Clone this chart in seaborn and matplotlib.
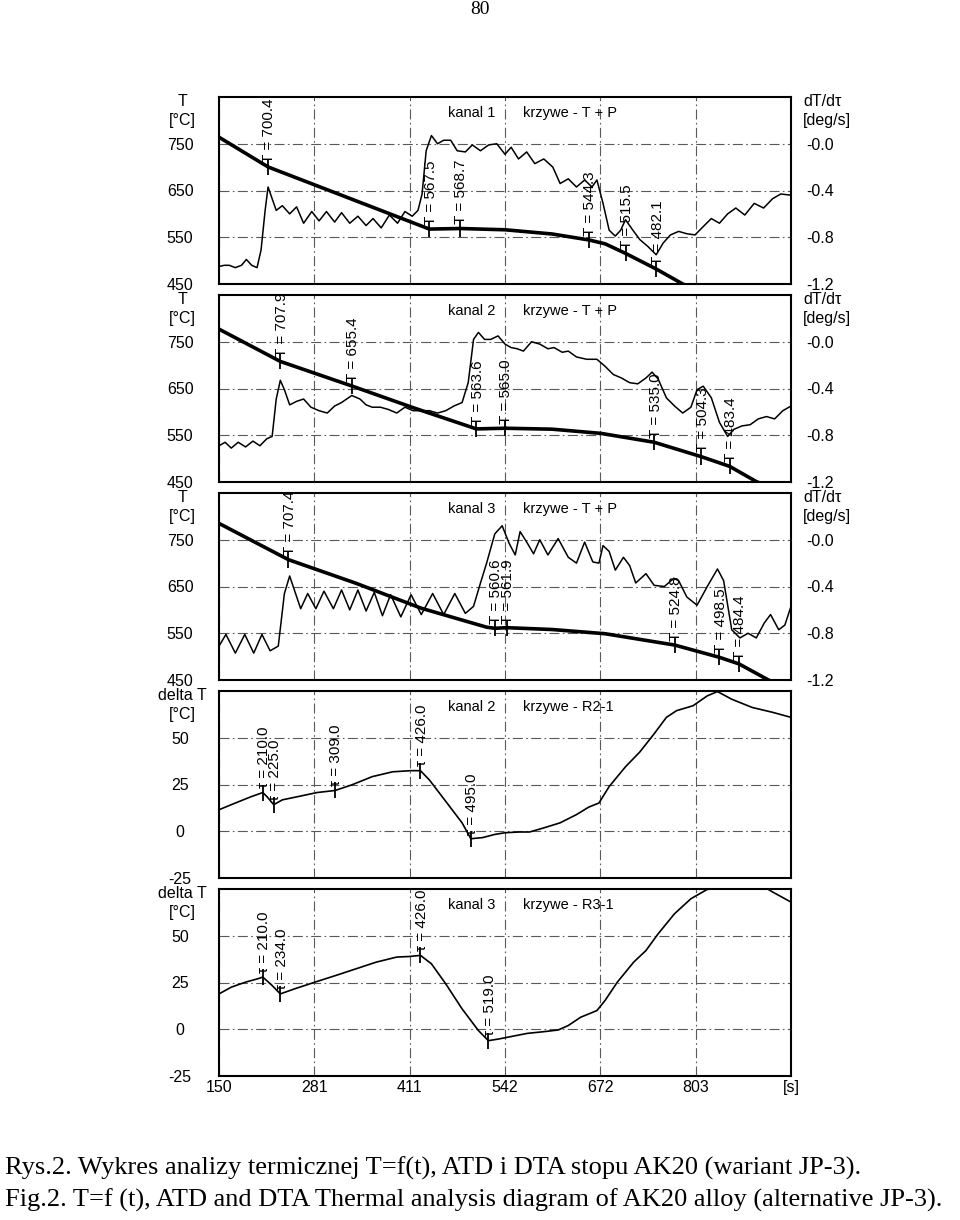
import numpy as np
import pandas as pd
import seaborn as sns
import matplotlib.pyplot as plt

W, H = 960, 1220

# time axis [s]
x_ticks = [150.0, 280.6, 411.2, 541.8, 672.4, 803.0, 933.6]
x_tick_labels = ["150", "281", "411", "542", "672", "803", "[s]"]

t_ticks = [450, 550, 650, 750]
t_tick_labels = ["450", "550", "650", "750"]
rate_ticks = [0.0, -0.4, -0.8, -1.2]
rate_tick_labels = ["-0.0", "-0.4", "-0.8", "-1.2"]
delta_ticks = [-25, 0, 25, 50]
delta_tick_labels = ["-25", "0", "25", "50"]

# kanal 1 : T (thick) and dT/dtau (thin)
k1_cool_t = [150, 217.2, 438.2, 480.2, 541.8, 606.2, 656.5, 678.9, 706.9, 748.9, 785.3, 800]
k1_cool_T = [764, 700.4, 567.5, 568.7, 566, 557, 544.3, 536, 515.5, 482.1, 450, 440]
k1_rate_t = [150.0, 157.3, 164.0, 172.4, 180.8, 187.5, 194.8, 202.1, 207.6, 213.2, 217.2, 222.8,
             228.4, 236.8, 246.8, 256.3, 265.9, 277.1, 287.1, 297.2, 308.4, 317.9, 329.1, 340.3,
             351.5, 361.0, 372.2, 383.4, 394.6, 404.7, 414.7, 422.6, 428.2, 433.8, 441.0, 449.4,
             457.8, 467.4, 476.3, 487.5, 497.0, 508.2, 519.4, 530.6, 541.8, 550.2, 560.3, 571.5,
             582.6, 595.0, 607.3, 617.3, 628.5, 639.7, 650.9, 661.0, 667.7, 676.1, 684.5, 692.9,
             700.2, 706.9, 717.0, 726.5, 737.7, 748.9, 758.4, 768.5, 779.7, 790.9, 802.1, 813.2,
             824.4, 835.6, 846.8, 858.0, 870.3, 883.2, 896.1, 908.4, 919.6, 933.6]
k1_rate = [-1.05, -1.04, -1.04, -1.06, -1.04, -0.99, -1.04, -1.06, -0.91, -0.57, -0.37, -0.47,
           -0.57, -0.53, -0.60, -0.54, -0.68, -0.58, -0.66, -0.58, -0.67, -0.59, -0.68, -0.62,
           -0.70, -0.64, -0.72, -0.61, -0.68, -0.58, -0.62, -0.57, -0.43, -0.06, 0.07, 0.0,
           0.03, 0.03, -0.06, -0.07, -0.01, -0.06, -0.01, 0.0, -0.09, -0.03, -0.13, -0.07,
           -0.17, -0.13, -0.20, -0.34, -0.30, -0.37, -0.31, -0.37, -0.31, -0.51, -0.74, -0.79,
           -0.74, -0.65, -0.74, -0.82, -0.88, -0.95, -0.85, -0.78, -0.75, -0.77, -0.78, -0.71,
           -0.64, -0.68, -0.60, -0.55, -0.61, -0.51, -0.55, -0.47, -0.43, -0.44]
k1_marks_t = [217.2, 438.2, 480.2, 656.5, 706.9, 748.9]
k1_marks_T = [700.4, 567.5, 568.7, 544.3, 515.5, 482.1]

# kanal 2
k2_cool_t = [150, 234.0, 331.9, 415.9, 502.6, 541.8, 606.2, 673.3, 746.1, 810.5, 849.6, 886.0, 900]
k2_cool_T = [777, 707.9, 655.4, 609, 563.6, 565.0, 563, 554, 535.0, 504.3, 483.4, 451, 442]
k2_rate_t = [150.0, 158.4, 166.8, 176.3, 186.4, 196.5, 206.0, 215.5, 222.8, 228.4, 234.0, 239.6,
             246.8, 256.3, 265.9, 275.9, 287.1, 298.3, 308.4, 317.9, 331.9, 343.1, 351.5, 359.9,
             371.1, 382.3, 393.5, 404.7, 415.9, 427.1, 438.3, 449.4, 460.6, 471.8, 483.0, 491.4,
             498.7, 505.4, 513.8, 522.2, 532.3, 541.8, 550.2, 558.6, 567.0, 578.2, 589.4, 600.6,
             609.0, 620.2, 628.5, 639.7, 653.7, 667.7, 678.9, 690.1, 701.3, 712.5, 723.7, 734.9,
             743.3, 751.7, 762.9, 774.1, 785.3, 796.5, 804.9, 813.3, 824.5, 835.6, 846.8, 855.2,
             866.4, 877.6, 888.8, 900.0, 911.2, 922.4, 933.6]
k2_rate = [-0.89, -0.86, -0.91, -0.86, -0.90, -0.85, -0.89, -0.83, -0.81, -0.49, -0.33, -0.41,
           -0.54, -0.51, -0.49, -0.56, -0.59, -0.61, -0.55, -0.52, -0.46, -0.49, -0.54, -0.56,
           -0.56, -0.58, -0.61, -0.56, -0.59, -0.59, -0.59, -0.61, -0.59, -0.55, -0.52, -0.35,
           0.02, 0.08, 0.02, 0.02, 0.05, -0.02, -0.05, -0.06, -0.08, 0.0, -0.02, -0.06,
           -0.05, -0.09, -0.08, -0.13, -0.15, -0.15, -0.21, -0.28, -0.31, -0.35, -0.36, -0.31,
           -0.26, -0.32, -0.48, -0.55, -0.61, -0.56, -0.41, -0.38, -0.48, -0.69, -0.81, -0.75,
           -0.72, -0.71, -0.66, -0.64, -0.66, -0.59, -0.55]
k2_marks_t = [234.0, 331.9, 502.6, 541.8, 746.1, 810.5, 849.6]
k2_marks_T = [707.9, 655.4, 563.6, 565.0, 535.0, 504.3, 483.4]

# kanal 3
k3_cool_t = [150, 245.1, 337.5, 427.1, 516.6, 527.8, 544.6, 606.2, 678.9, 774.1, 835.6, 862.4, 902.7, 915]
k3_cool_T = [785, 707.4, 657, 603.5, 563, 560.6, 561.9, 558, 549, 524.8, 498.5, 484.4, 450, 441]
k3_rate_t = [150.0, 159.5, 172.4, 185.3, 197.6, 208.8, 220.0, 231.2, 239.6, 246.8, 261.9, 271.5,
             282.7, 293.8, 306.7, 317.9, 329.1, 340.3, 351.5, 362.7, 373.9, 385.1, 399.1, 413.1,
             427.1, 442.7, 457.8, 473.0, 487.5, 498.7, 508.2, 516.6, 527.8, 537.9, 547.4, 555.8,
             562.5, 572.5, 580.9, 589.4, 600.6, 614.6, 628.5, 639.7, 650.9, 662.1, 670.5, 676.1,
             684.5, 692.9, 704.1, 712.5, 720.9, 734.9, 746.1, 760.1, 773.0, 779.7, 790.9, 804.9,
             818.9, 832.9, 841.3, 852.4, 863.6, 874.8, 886.0, 897.2, 905.6, 916.8, 925.2, 933.6]
k3_rate = [-0.91, -0.81, -0.97, -0.81, -0.97, -0.81, -0.95, -0.91, -0.46, -0.31, -0.59, -0.46,
           -0.59, -0.44, -0.59, -0.43, -0.60, -0.43, -0.61, -0.45, -0.65, -0.47, -0.66, -0.47,
           -0.64, -0.46, -0.64, -0.46, -0.63, -0.57, -0.37, -0.20, 0.05, 0.12, -0.03, -0.13,
           0.07, -0.03, -0.12, 0.0, -0.13, 0.01, -0.15, -0.20, -0.02, -0.19, -0.20, -0.05,
           -0.10, -0.26, -0.15, -0.22, -0.37, -0.29, -0.39, -0.40, -0.33, -0.35, -0.49, -0.56,
           -0.40, -0.25, -0.35, -0.77, -0.84, -0.80, -0.84, -0.71, -0.64, -0.77, -0.73, -0.57]
k3_marks_t = [245.1, 527.8, 544.6, 774.1, 835.6, 862.4]
k3_marks_T = [707.4, 560.6, 561.9, 524.8, 498.5, 484.4]

# delta T, kanal 2 (R2-1)
r21_t = [150.0, 172.4, 194.8, 210.0, 215.5, 225.0, 236.8, 259.1, 284.3, 309.0, 331.9, 359.9,
         387.9, 413.1, 426.0, 438.3, 460.6, 483.0, 495.0, 511.0, 527.8, 541.8, 561.4, 575.4,
         595.0, 617.3, 639.7, 656.5, 670.5, 684.5, 706.9, 726.5, 746.1, 762.9, 776.9, 799.3,
         818.9, 832.9, 852.4, 880.4, 908.4, 933.6]
r21_dT = [11.5, 15.1, 18.6, 20.7, 18.6, 14.2, 16.8, 18.6, 20.7, 21.8, 24.8, 29.2,
          31.8, 32.4, 32.4, 27.4, 16.0, 4.5, -4.0, -3.4, -1.7, -0.8, -0.4, -0.4,
          1.8, 4.5, 8.9, 12.9, 15.1, 23.9, 34.5, 42.4, 52.1, 60.9, 64.5, 67.1,
          72.4, 74.7, 70.6, 66.2, 63.6, 60.9]
r21_marks_t = [210.0, 225.0, 309.0, 426.0, 495.0]
r21_marks_dT = [20.7, 14.2, 21.8, 32.4, -4.0]

# delta T, kanal 3 (R3-1)
r31_t = [150.0, 166.8, 186.4, 203.2, 210.0, 222.8, 234.0, 253.5, 281.5, 309.5, 337.5, 365.5,
         393.5, 410.3, 426.0, 441.0, 460.6, 483.0, 505.4, 519.0, 533.4, 550.2, 572.5, 595.0,
         614.6, 628.5, 645.3, 667.7, 678.9, 695.7, 718.1, 734.9, 751.7, 774.1, 796.5, 818.9,
         852.4, 897.2, 908.4, 933.6]
r31_dT = [18.9, 22.5, 25.2, 27.0, 27.9, 23.4, 18.9, 21.6, 25.2, 28.7, 32.3, 35.9,
          38.6, 38.9, 39.5, 35.0, 24.3, 10.9, -0.7, -6.1, -5.2, -3.9, -2.2, -1.3,
          -0.4, 2.0, 6.4, 10.0, 15.4, 25.2, 35.9, 42.1, 51.1, 61.8, 69.8, 74.8,
          76.0, 76.0, 73.4, 68.0]
r31_marks_t = [210.0, 234.0, 426.0, 519.0]
r31_marks_dT = [27.9, 18.9, 39.5, -6.1]

sns.set_theme(style="white")
plt.rcParams["font.family"] = ["Liberation Sans", "DejaVu Sans"]
plt.rcParams["text.color"] = "black"

fig = plt.figure(figsize=(W / 100, H / 100), dpi=100)

tops = [97, 295, 493, 691, 889]
panel_h = 187
left_px, right_px = 219, 791
LBL = 11.5


def make_ax(top):
    return fig.add_axes([left_px / W, 1 - (top + panel_h) / H,
                         (right_px - left_px) / W, panel_h / H])


def style_ax(ax, yticks, ylabels, ylim, bottom=False):
    ax.set_xlim(x_ticks[0], x_ticks[-1])
    ax.set_ylim(*ylim)
    ax.set_xticks(x_ticks)
    ax.set_yticks(yticks)
    ax.set_yticklabels(ylabels)
    if bottom:
        ax.set_xticklabels(x_tick_labels)
    else:
        ax.set_xticklabels([])
    ax.tick_params(axis="both", length=0, labelsize=LBL, colors="black")
    ax.tick_params(axis="y", pad=28)
    ax.tick_params(axis="x", pad=3)
    for lab in ax.get_yticklabels():
        lab.set_horizontalalignment("center")
    ax.grid(True, ls=(0, (9, 3, 1.5, 3)), color="0.35", lw=0.8)
    for s in ax.spines.values():
        s.set_color("black")
        s.set_linewidth(1.5)
    ax.set_xlabel("")
    ax.set_ylabel("")


def add_marks(ax, mt, mv, texts):
    ax.plot(mt, mv, ls="none", marker="|", ms=12, mew=1.3, color="black", zorder=6)
    for t, v, s in zip(mt, mv, texts):
        ax.annotate(s, (t, v), xytext=(1, 3), textcoords="offset points", rotation=90,
                    ha="center", va="bottom", fontsize=11, color="black",
                    annotation_clip=False, zorder=7)


def headers(top, left_name, right=True):
    fig.text(182 / W, 1 - (top + 4) / H, left_name, ha="center", va="center", fontsize=LBL)
    fig.text(182 / W, 1 - (top + 23) / H, "[°C]", ha="center", va="center", fontsize=LBL)
    if right:
        fig.text(803 / W, 1 - (top + 4) / H, "dT/dτ", ha="left", va="center", fontsize=LBL)
        fig.text(803 / W, 1 - (top + 23) / H, "[deg/s]", ha="left", va="center", fontsize=LBL)


def panel_title(ax, kanal, curves):
    ax.text(0.40, 0.915, kanal, transform=ax.transAxes, fontsize=10.5, va="center")
    ax.text(0.532, 0.915, curves, transform=ax.transAxes, fontsize=10.5, va="center")


tp_panels = [
    (k1_cool_t, k1_cool_T, k1_rate_t, k1_rate, k1_marks_t, k1_marks_T, "kanal 1"),
    (k2_cool_t, k2_cool_T, k2_rate_t, k2_rate, k2_marks_t, k2_marks_T, "kanal 2"),
    (k3_cool_t, k3_cool_T, k3_rate_t, k3_rate, k3_marks_t, k3_marks_T, "kanal 3"),
]

for i, (ct, cT, rt, rv, mt, mT, name) in enumerate(tp_panels):
    ax = make_ax(tops[i])
    sns.lineplot(x=ct, y=cT, ax=ax, color="black", linewidth=2.6, sort=False, estimator=None)
    style_ax(ax, t_ticks, t_tick_labels, (450, 850))
    ax2 = ax.twinx()
    sns.lineplot(x=rt, y=rv, ax=ax2, color="black", linewidth=1.1, sort=False, estimator=None)
    ax2.set_xlim(x_ticks[0], x_ticks[-1])
    ax2.set_ylim(-1.2, 0.4)
    ax2.set_yticks(rate_ticks)
    ax2.set_yticklabels(rate_tick_labels)
    ax2.tick_params(axis="y", length=0, pad=11, labelsize=LBL, colors="black")
    ax2.grid(False)
    ax2.set_ylabel("")
    for s in ax2.spines.values():
        s.set_visible(False)
    add_marks(ax, mt, mT, [f"T = {v:.1f}" for v in mT])
    panel_title(ax, name, "krzywe - T + P")
    headers(tops[i], "T")

dta_panels = [
    (r21_t, r21_dT, r21_marks_t, r21_marks_dT, "kanal 2", "krzywe - R2-1"),
    (r31_t, r31_dT, r31_marks_t, r31_marks_dT, "kanal 3", "krzywe - R3-1"),
]

for j, (dt_, dv, mt, mv, name, curves) in enumerate(dta_panels):
    ax = make_ax(tops[3 + j])
    sns.lineplot(x=dt_, y=dv, ax=ax, color="black", linewidth=1.2, sort=False, estimator=None)
    style_ax(ax, delta_ticks, delta_tick_labels, (-25, 75), bottom=(j == 1))
    add_marks(ax, mt, mv, [f"τ = {t:.1f}" for t in mt])
    panel_title(ax, name, curves)
    headers(tops[3 + j], "delta T", right=False)

fig.text(0.5, 1 - 10 / H, "80", ha="center", va="center", fontsize=14, family="Liberation Serif")
fig.text(5 / W, 1 - 1168 / H,
         "Rys.2. Wykres analizy termicznej T=f(t), ATD i DTA stopu AK20 (wariant JP-3).",
         ha="left", va="center", fontsize=19, family="Liberation Serif")
fig.text(5 / W, 1 - 1200 / H,
         "Fig.2. T=f (t), ATD and DTA Thermal analysis diagram of AK20 alloy (alternative JP-3).",
         ha="left", va="center", fontsize=19, family="Liberation Serif")

fig.savefig("out.png", dpi=100)
